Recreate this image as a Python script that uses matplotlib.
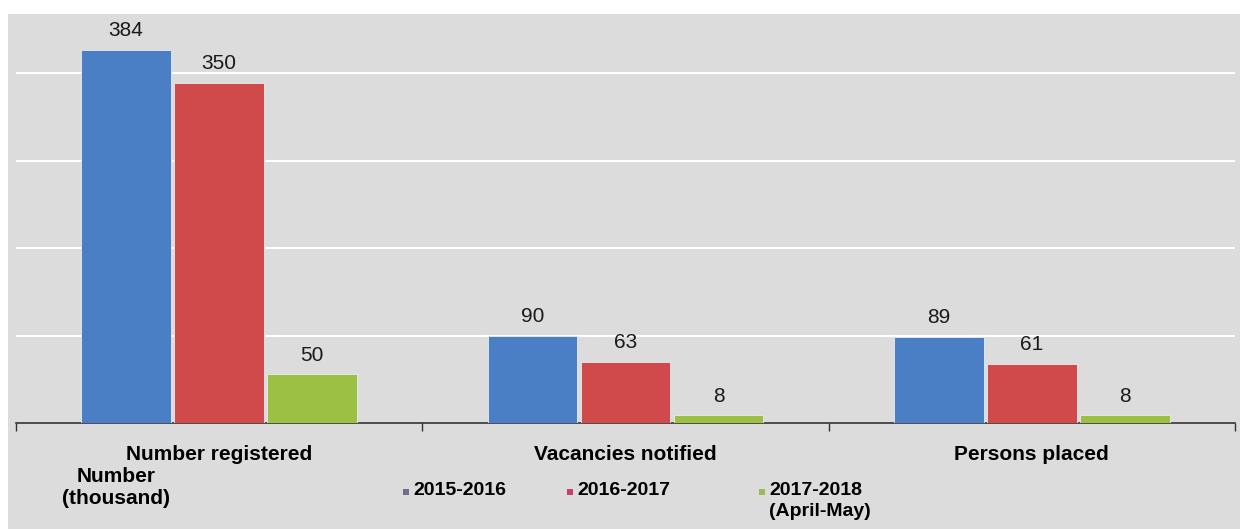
import matplotlib.pyplot as plt
import numpy as np
from matplotlib.patches import Rectangle

plt.rcParams['font.family'] = ['Liberation Sans', 'DejaVu Sans']

categories = ['Number registered', 'Vacancies notified', 'Persons placed']
series_names = ['2015-2016', '2016-2017', '2017-2018\n(April-May)']
values_2015 = [384, 90, 89]
values_2016 = [350, 63, 61]
values_2017 = [50, 8, 8]
grid_levels = [90, 180, 270, 360]

bar_colors = ['#4a7fc6', '#d04a4c', '#9bc043']
marker_colors = ['#6e6e8e', '#c8406a', '#9bbb59']

fig = plt.figure(figsize=(12.4, 5.29), dpi=100)
fig.patch.set_facecolor('white')
# grey panel behind everything
fig.patches.append(Rectangle((8 / 1240, 0), 1 - 8 / 1240, 1 - 14 / 529,
                             transform=fig.transFigure, facecolor='#dcdcdc',
                             edgecolor='none', zorder=-5))

ax = fig.add_axes([16 / 1240, 106 / 529, 1219 / 1240, 409 / 529])
ax.set_facecolor('none')

x = np.arange(len(categories))
width = 0.221
step = 0.229
for i, vals in enumerate([values_2015, values_2016, values_2017]):
    bars = ax.bar(x + (i - 1) * step, vals, width, color=bar_colors[i],
                  edgecolor='#e8ecef', linewidth=0.6, zorder=3)
    for b, v in zip(bars, vals):
        ax.annotate(str(v), (b.get_x() + b.get_width() / 2, v), xytext=(0, 7),
                    textcoords='offset points', ha='center', va='bottom',
                    fontsize=15, color='#1a1a1a')

for g in grid_levels:
    ax.axhline(g, color='white', linewidth=1.5, zorder=1)

ax.set_xlim(-0.5, 2.5)
ax.set_ylim(0, 421)
ax.set_yticks([])
ax.set_xticks([-0.5, 0.5, 1.5, 2.5])
ax.set_xticklabels([])
ax.set_xticks(x, minor=True)
ax.set_xticklabels(categories, minor=True, fontsize=15, fontweight='bold')
ax.tick_params(axis='x', which='minor', length=0, pad=16)
ax.tick_params(axis='x', which='major', length=6, width=1, color='#333333', direction='out')
for side in ['top', 'right', 'left']:
    ax.spines[side].set_visible(False)
ax.spines['bottom'].set_color('#333333')
ax.spines['bottom'].set_linewidth(1.2)

fig.text(116 / 1240, 1 - 488 / 529, 'Number\n(thousand)', ha='center', va='center',
         fontsize=15, fontweight='bold', linespacing=1.2)

legend_x = [403, 567, 759]
for lx, name, mc in zip(legend_x, series_names, marker_colors):
    fig.patches.append(Rectangle((lx / 1240, 1 - 495 / 529), 6 / 1240, 6 / 529,
                                 transform=fig.transFigure, facecolor=mc,
                                 edgecolor='none', zorder=2))
    fig.text((lx + 10) / 1240, 1 - 482 / 529, name, ha='left', va='top',
             fontsize=14, fontweight='bold', linespacing=1.3)

fig.savefig('out.png', dpi=100)
